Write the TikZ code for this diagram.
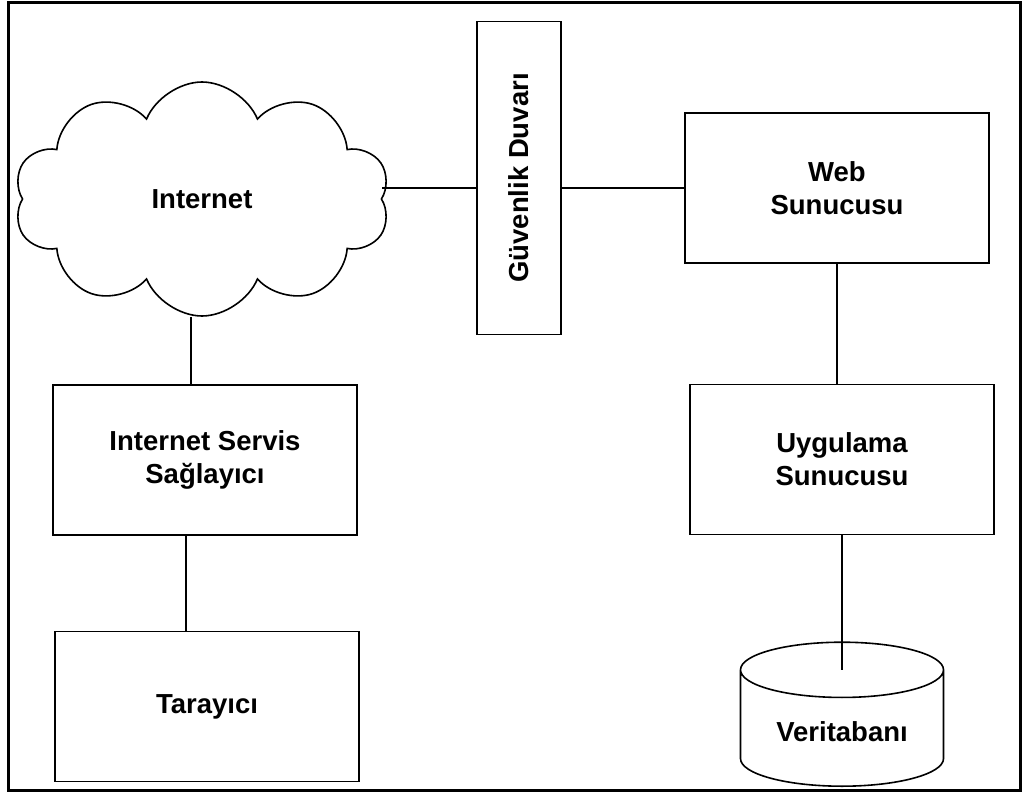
\documentclass[tikz,border=0pt]{standalone}
\usepackage{fontspec}
\setmainfont{Liberation Sans}
\usepackage{graphicx}
\usetikzlibrary{positioning, shapes.symbols, shapes.geometric}

\tikzset{
  box/.style={draw, rectangle, line width=1.6pt, minimum width=304pt, minimum height=150pt, align=center},
  link/.style={line width=1.6pt},
}

\begin{document}
\begin{tikzpicture}[x=1pt, y=-1pt, font=\fontsize{27.5}{33}\selectfont\bfseries]
        \useasboundingbox (0,0) rectangle (1024,794);
        \draw[line width=3pt] (8,3) rectangle (1020,790);

        % Nodes
        \node (inet) [draw, cloud, cloud puffs=10, cloud puff arc=135, aspect=1.6, line width=1.6pt, minimum width=376pt, minimum height=234pt] at (202,199) {Internet};
        \node (fw) [draw, rectangle, line width=1.6pt, minimum width=84pt, minimum height=313pt] at (519,178) {\rotatebox{90}{Güvenlik Duvarı}};

        \node (web) [box] at (837,188) {Web\\Sunucusu};
        \node (app) [box, below=120pt of web, xshift=5pt] {Uygulama\\Sunucusu};
        \node (db) [draw, cylinder, shape border rotate=90, aspect=0.4, line width=1.6pt, minimum width=203pt, minimum height=144pt, below=106pt of app] {Veritabanı};

        \node (iss) [box] at (205,460) {Internet Servis\\Sağlayıcı};
        \node (tar) [box, below=95pt of iss, xshift=2pt] {Tarayıcı};

        % Lines
        \draw[link] (inet.east |- web.west) -- (fw.west |- web.west);
        \draw[link] (fw.east |- web.west) -- (web.west);
        \draw[link] (web.south) -- (web.south |- app.north);
        \draw[link] (app.south) -- (app.south |- db.before top);
        \draw[link] ([xshift=-14pt]iss.north) -- ([xshift=-14pt]iss.north |- inet.south);
        \draw[link] ([xshift=-19pt]iss.south) -- ([xshift=-21pt]tar.north);
    \end{tikzpicture}
\end{document}
